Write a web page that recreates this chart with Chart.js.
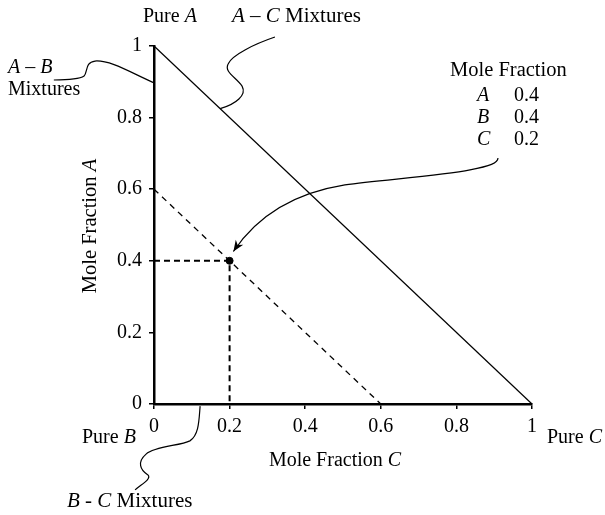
<!DOCTYPE html>
<html>
<head>
<meta charset="utf-8">
<script src="https://cdn.jsdelivr.net/npm/chart.js@4.4.1/dist/chart.umd.min.js"></script>
<style>
html,body{margin:0;padding:0;background:#fff;}
#wrap{width:605px;height:515px;}
</style>
</head>
<body>
<div id="wrap"><canvas id="c" width="605" height="515"></canvas></div>
<script>
// ---- data ----
const xTickValues = [0, 0.2, 0.4, 0.6, 0.8, 1];
const xTickLabels = ['0', '0.2', '0.4', '0.6', '0.8', '1'];
const yTickValues = [0, 0.2, 0.4, 0.6, 0.8, 1];
const yTickLabels = ['0', '0.2', '0.4', '0.6', '0.8', '1'];

const edgeACX = [0, 1];          // A–C edge (x = mole fraction C)
const edgeACY = [1, 0];          // y = mole fraction A
const constBX = [0, 0.6];        // line of constant B = 0.4
const constBY = [0.6, 0];
const guideX = [0, 0.2, 0.2];    // guides to the mixture point
const guideY = [0.4, 0.4, 0];
const mixtureC = [0.2];
const mixtureA = [0.4];

const legendComponents = ['A', 'B', 'C'];
const legendValues = ['0.4', '0.4', '0.2'];

// callout curves (data units: M then cubic segments)
const calloutAB = [[0,0.897],[-0.064,0.927],[-0.116,0.961],[-0.156,0.958],[-0.183,0.955],[-0.175,0.927],[-0.185,0.916],[-0.196,0.908],[-0.222,0.905],[-0.265,0.905]];
const calloutAC = [[0.175,0.825],[0.217,0.838],[0.246,0.863],[0.233,0.888],[0.217,0.913],[0.185,0.927],[0.196,0.950],[0.206,0.975],[0.267,1.006],[0.320,1.025]];
const calloutBC = [[0.122,-0.006],[0.119,-0.045],[0.119,-0.087],[0.095,-0.103],[0.069,-0.117],[0.003,-0.117],[-0.021,-0.140],[-0.045,-0.162],[-0.037,-0.184],[-0.016,-0.198],[-0.005,-0.210],[-0.037,-0.226],[-0.050,-0.240]];
const calloutArrow = [[0.910,0.687],[0.910,0.673],[0.889,0.665],[0.836,0.654],[0.757,0.637],[0.598,0.626],[0.505,0.612],[0.386,0.592],[0.280,0.536],[0.210,0.426]];

const pts = (xs, ys) => xs.map((x, i) => ({x: x, y: ys[i]}));

const FONT = '"Liberation Serif", "Times New Roman", serif';

function richText(ctx, parts, x, y, align, size) {
  size = size || 20;
  let total = 0;
  const widths = parts.map(p => {
    ctx.font = (p[1] ? 'italic ' : '') + size + 'px ' + FONT;
    const w = ctx.measureText(p[0]).width;
    total += w;
    return w;
  });
  let cx = x;
  if (align === 'center') cx = x - total / 2;
  else if (align === 'right') cx = x - total;
  ctx.textAlign = 'left';
  ctx.textBaseline = 'alphabetic';
  parts.forEach((p, i) => {
    ctx.font = (p[1] ? 'italic ' : '') + size + 'px ' + FONT;
    ctx.fillText(p[0], cx, y);
    cx += widths[i];
  });
}

function drawCurve(ctx, sx, sy, arr) {
  const P = arr.map(p => [sx.getPixelForValue(p[0]), sy.getPixelForValue(p[1])]);
  ctx.beginPath();
  ctx.moveTo(P[0][0], P[0][1]);
  for (let i = 1; i + 2 < P.length; i += 3) {
    ctx.bezierCurveTo(P[i][0], P[i][1], P[i+1][0], P[i+1][1], P[i+2][0], P[i+2][1]);
  }
  ctx.stroke();
  return P;
}

const decor = {
  id: 'decor',
  afterDraw(chart) {
    const ctx = chart.ctx;
    const sx = chart.scales.x, sy = chart.scales.y;
    ctx.save();
    ctx.strokeStyle = '#000';
    ctx.fillStyle = '#000';
    ctx.lineWidth = 1.2;
    drawCurve(ctx, sx, sy, calloutAB);
    drawCurve(ctx, sx, sy, calloutAC);
    drawCurve(ctx, sx, sy, calloutBC);
    const P = drawCurve(ctx, sx, sy, calloutArrow);
    // arrowhead
    const n = P.length;
    const tip = P[n-1], prev = P[n-2];
    const ang = Math.atan2(tip[1] - prev[1], tip[0] - prev[0]);
    const L = 11, W = 4.5;
    ctx.beginPath();
    ctx.moveTo(tip[0], tip[1]);
    ctx.lineTo(tip[0] - L*Math.cos(ang) + W*Math.sin(ang), tip[1] - L*Math.sin(ang) - W*Math.cos(ang));
    ctx.lineTo(tip[0] - 0.7*L*Math.cos(ang), tip[1] - 0.7*L*Math.sin(ang));
    ctx.lineTo(tip[0] - L*Math.cos(ang) - W*Math.sin(ang), tip[1] - L*Math.sin(ang) + W*Math.cos(ang));
    ctx.closePath();
    ctx.fill();

    // texts
    richText(ctx, [['Pure ', false], ['A', true]], 143, 22, 'left');
    richText(ctx, [['A', true], [' \u2013 ', false], ['C', true], [' Mixtures', false]], 232, 22, 'left', 21);
    richText(ctx, [['A', true], [' \u2013 ', false], ['B', true]], 8, 73, 'left');
    richText(ctx, [['Mixtures', false]], 8, 95, 'left');
    richText(ctx, [['Mole Fraction', false]], 450, 76, 'left', 20.5);
    const rowY = [101, 123, 145];
    legendComponents.forEach((c, i) => {
      richText(ctx, [[c, true]], 477, rowY[i], 'left');
      richText(ctx, [[legendValues[i], false]], 514, rowY[i], 'left');
    });
    richText(ctx, [['Pure ', false], ['B', true]], 82, 443, 'left');
    richText(ctx, [['Pure ', false], ['C', true]], 547, 443, 'left');
    richText(ctx, [['Mole Fraction ', false], ['C', true]], 335, 466, 'center');
    richText(ctx, [['B', true], [' - ', false], ['C', true], [' Mixtures', false]], 67, 507, 'left', 21);
    // y title
    ctx.translate(96, 226);
    ctx.rotate(-Math.PI / 2);
    richText(ctx, [['Mole Fraction ', false], ['A', true]], 0, 0, 'center', 20.5);
    ctx.restore();
  }
};

const axisCommon = {
  type: 'linear',
  min: 0,
  max: 1,
  grid: {drawOnChartArea: false, drawTicks: true, tickLength: 5, color: '#000', lineWidth: 1.5},
  border: {display: true, color: '#000', width: 2.5},
  title: {display: false}
};

new Chart(document.getElementById('c'), {
  type: 'scatter',
  data: {
    datasets: [
      {data: pts(edgeACX, edgeACY), showLine: true, borderColor: '#000', borderWidth: 1.2, pointRadius: 0, clip: false},
      {data: pts(constBX, constBY), showLine: true, borderColor: '#000', borderWidth: 1.3, borderDash: [6, 5], pointRadius: 0, clip: false},
      {data: pts(guideX, guideY), showLine: true, borderColor: '#000', borderWidth: 2, borderDash: [6, 4], pointRadius: 0, clip: false},
      {data: pts(mixtureC, mixtureA), showLine: false, pointRadius: 3.5, pointBackgroundColor: '#000', pointBorderColor: '#000', clip: false}
    ]
  },
  options: {
    responsive: false,
    animation: false,
    events: [],
    layout: {padding: {left: 0, top: 46, right: 73, bottom: 0}},
    plugins: {legend: {display: false}, tooltip: {enabled: false}},
    scales: {
      x: Object.assign({}, axisCommon, {
        position: 'bottom',
        afterBuildTicks: s => { s.ticks = xTickValues.map(v => ({value: v})); },
        afterFit: s => { s.height = 111; },
        ticks: {
          color: '#000', font: {family: FONT, size: 20}, padding: 6, maxRotation: 0,
          callback: (v, i) => xTickLabels[i]
        }
      }),
      y: Object.assign({}, axisCommon, {
        position: 'left',
        afterBuildTicks: s => { s.ticks = yTickValues.map(v => ({value: v})); },
        afterFit: s => { s.width = 154; },
        ticks: {
          color: '#000', font: {family: FONT, size: 20}, padding: 7,
          callback: (v, i) => yTickLabels[i]
        }
      })
    }
  },
  plugins: [decor]
});
</script>
</body>
</html>
